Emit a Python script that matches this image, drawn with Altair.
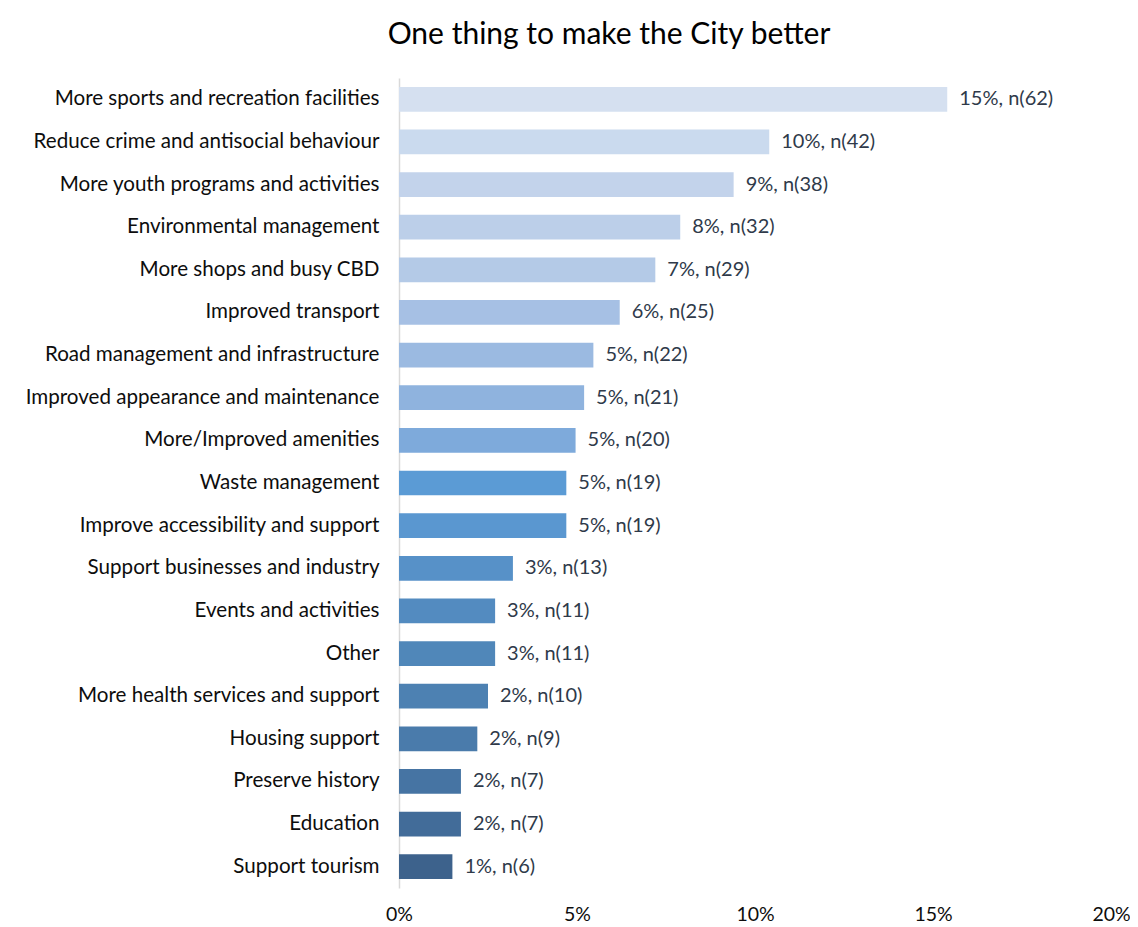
import altair as alt
import pandas as pd

categories = [
    "More sports and recreation facilities",
    "Reduce crime and antisocial  behaviour",
    "More youth programs and activities",
    "Environmental management",
    "More shops and busy CBD",
    "Improved transport",
    "Road management and infrastructure",
    "Improved appearance and maintenance",
    "More/Improved amenities",
    "Waste management ",
    "Improve accessibility and support",
    "Support businesses and industry",
    "Events and activities",
    "Other",
    "More health services and support",
    "Housing support",
    "Preserve history",
    "Education",
    "Support tourism",
]
percent = [15.4, 10.4, 9.4, 7.9, 7.2, 6.2, 5.46, 5.2, 4.96, 4.7, 4.7, 3.2, 2.7, 2.7, 2.5, 2.2, 1.74, 1.74, 1.5]
counts = [62, 42, 38, 32, 29, 25, 22, 21, 20, 19, 19, 13, 11, 11, 10, 9, 7, 7, 6]
value_labels = [
    "15%, n(62)", "10%, n(42)", "9%, n(38)", "8%, n(32)", "7%, n(29)",
    "6%, n(25)", "5%, n(22)", "5%, n(21)", "5%, n(20)", "5%, n(19)",
    "5%, n(19)", "3%, n(13)", "3%, n(11)", "3%, n(11)", "2%, n(10)",
    "2%, n(9)", "2%, n(7)", "2%, n(7)", "1%, n(6)",
]
colors = [
    "#d5e0f0", "#cadaee", "#c3d3eb", "#bccfe9", "#b4cae7", "#a6c0e4",
    "#9bbae1", "#8fb3de", "#7eaadb", "#5b9bd5", "#5a97d0", "#5791c8",
    "#538bc0", "#5087b9", "#4d81b2", "#4a7bab", "#4674a3", "#426c99",
    "#3d628c",
]

df = pd.DataFrame({
    "category": categories,
    "pct": [p / 100 for p in percent],
    "n": counts,
    "label": value_labels,
    "color": colors,
})

FONT = "Lato"

y_enc = alt.Y(
    "category:N",
    sort=categories,
    title=None,
    scale=alt.Scale(paddingInner=0.42, paddingOuter=0.21),
    axis=alt.Axis(
        labelFontSize=20.6, labelColor="#0d0d0d", labelPadding=20, ticks=False,
        domain=True, domainColor="#d9d9d9", domainWidth=1.5, labelLimit=420,
        labelFont=FONT,
    ),
)

x_enc = alt.X(
    "pct:Q",
    title=None,
    scale=alt.Scale(domain=[0, 0.2]),
    axis=alt.Axis(
        values=[0, 0.05, 0.1, 0.15, 0.2], format=".0%", grid=False, ticks=False,
        domain=False, labelFontSize=19.5, labelColor="#0d0d0d", labelPadding=17,
        labelFont=FONT, labelFlush=False,
    ),
)

bars = alt.Chart(df).mark_bar().encode(
    x=x_enc,
    y=y_enc,
    color=alt.Color("color:N", scale=None),
)

texts = alt.Chart(df).mark_text(
    align="left", baseline="middle", dx=12, fontSize=20, color="#2f3a4a", font=FONT,
).encode(
    x="pct:Q",
    y=alt.Y("category:N", sort=categories),
    text="label:N",
)

chart = alt.layer(bars, texts).properties(
    width=712,
    height=810,
    title=alt.TitleParams(
        "One thing to make the City better",
        fontSize=30, font=FONT, fontWeight="normal", color="#000000",
        anchor="middle", dx=-146, offset=28,
    ),
    autosize=alt.AutoSizeParams(type="none"),
    padding={"left": 391, "top": 70, "right": 19, "bottom": 40},
).configure(background="white").configure_view(stroke=None, strokeWidth=0)

chart.save("out.html", embed_options={"renderer": "svg", "actions": False})
